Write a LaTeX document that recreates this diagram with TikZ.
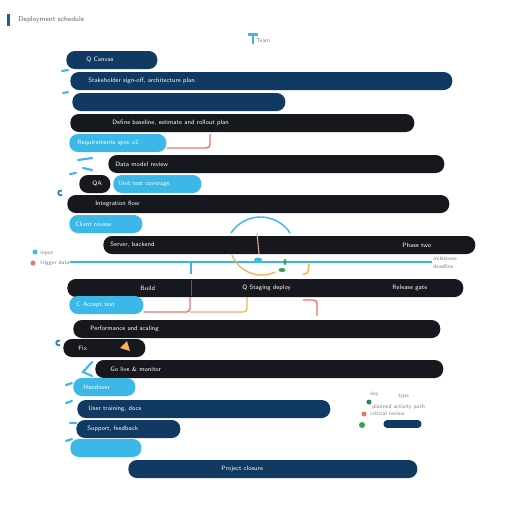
\documentclass[tikz,border=0pt]{standalone}
\usetikzlibrary{positioning}
\definecolor{navy}{HTML}{113A62}
\definecolor{ink}{HTML}{16181D}
\definecolor{sky}{HTML}{3BB8E8}
\definecolor{coral}{HTML}{F07070}
\definecolor{amber}{HTML}{F5B26B}
\definecolor{leaf}{HTML}{2EAA4A}
\tikzset{
  bar/.style={rounded corners=0.17cm, minimum height=0.36cm, inner sep=0pt, anchor=west},
  lbl/.style={font=\sffamily\fontsize{3.6}{4}\selectfont, text=white, inner sep=0pt, anchor=west},
  tag/.style={font=\sffamily\fontsize{3.2}{3.6}\selectfont, text=gray, inner sep=0pt, anchor=west},
  blob/.style={sky, line width=1.2pt, line cap=round}
}
\begin{document}
\begin{tikzpicture}[x=0.02cm, y=-0.02cm]
  \useasboundingbox[fill=white] (0,0) rectangle (512,512);
  % title
  \fill[navy!70!sky] (7,14) rectangle (10,26);
  \node[tag, text=gray!80!black, font=\sffamily\fontsize{4}{4}\selectfont] (title) at (18,20) {Deployment schedule};
  \fill[sky] (248,33) rectangle (258,36);
  \fill[sky] (252,36) rectangle (254,44);
  \node[tag] (key) at (256,41) {Team};
  % bars
  \node[bar, fill=navy, minimum width=1.82cm] (b1) at (66,60) {};
  \node[lbl] at (86,60) {Q Canvas};
  \node[bar, fill=navy, minimum width=7.64cm] (b2) at (70,81) {};
  \node[lbl] at (88,81) {Stakeholder sign-off, architecture plan};
  \node[bar, fill=navy, minimum width=4.26cm] (b3) at (72,102) {};
  \node[bar, fill=ink, minimum width=6.88cm] (b4) at (70,123) {};
  \node[lbl] at (112,123) {Define baseline, estimate and rollout plan};
  \node[bar, fill=sky, minimum width=1.94cm] (b5) at (69,143) {};
  \node[lbl] at (77,143) {Requirements spec v2};
  \node[bar, fill=ink, minimum width=6.72cm] (b6) at (108,164) {};
  \node[lbl] at (115,164) {Data model review};
  \node[bar, fill=ink, minimum width=0.62cm] (b7) at (79,184) {};
  \node[lbl] at (92,184) {QA};
  \node[bar, fill=sky, minimum width=1.76cm] (b7b) at (113,184) {};
  \node[lbl] at (118,184) {Unit test coverage};
  \node[bar, fill=ink, minimum width=7.64cm] (b8) at (67,204) {};
  \node[lbl] at (95,204) {Integration flow};
  \node[bar, fill=sky, minimum width=1.46cm] (b9) at (69,224) {};
  \node[lbl] at (75,224) {Client review};
  \node[bar, fill=ink, minimum width=7.44cm] (b10) at (103,245) {};
  \node[lbl] at (110,245) {Server, backend};
  \node[lbl] at (402,245) {Phase two};
  \node[bar, fill=ink, minimum width=7.92cm] (b12) at (67,288) {};
  \node[lbl] at (140,288) {Build};
  \node[lbl] at (242,288) {Q Staging deploy};
  \node[lbl] at (392,288) {Release gate};
  \draw[white!30!ink, line width=0.4pt] (191,280) -- (191,296);
  \node[bar, fill=sky, minimum width=1.48cm] (b13) at (69,305) {};
  \node[lbl] at (76,305) {C Accept test};
  \node[bar, fill=ink, minimum width=7.34cm] (b14) at (73,329) {};
  \node[lbl] at (90,329) {Performance and scaling};
  \node[bar, fill=ink, minimum width=1.64cm] (b15) at (63,348) {};
  \node[lbl] at (78,348) {Fix};
  \node[bar, fill=ink, minimum width=6.96cm] (b16) at (95,369) {};
  \node[lbl] at (110,369) {Go live \& monitor};
  \node[bar, fill=sky, minimum width=1.24cm] (b17) at (73,387) {};
  \node[lbl] at (83,387) {Handover};
  \node[bar, fill=navy, minimum width=5.06cm] (b18) at (77,409) {};
  \node[lbl] at (88,409) {User training, docs};
  \node[bar, fill=navy, minimum width=2.08cm] (b19) at (76,429) {};
  \node[lbl] at (87,429) {Support, feedback};
  \node[bar, fill=sky, minimum width=1.42cm] (b20) at (70,448) {};
  \node[bar, fill=navy, minimum width=5.78cm] (b21) at (128,469) {};
  \node[lbl] at (221,469) {Project closure};
  % connectors
  \draw[coral, line width=0.8pt, rounded corners=2pt] (b5.east) ++(0,5) -- (210,148) -- (210,134);
  \draw[sky, line width=0.8pt] (70,262) -- (432,262);
  \draw[sky, line width=0.8pt] (191,262) -- (191,274);
  \node[tag] (t11a) at (433,259) {milestone};
  \node[tag] (t11b) at (433,267) {deadline};
  \draw[coral, line width=0.8pt, rounded corners=2pt] (b13.east) ++(0,7) -- (190,312) -- (190,297);
  \draw[amber, line width=0.8pt, rounded corners=2pt] (190,312) -- (247,312) -- (247,297);
  \draw[coral, line width=0.8pt, rounded corners=2pt] (303,300) -- (317,300) -- (317,316);
  % gauge
  \draw[sky, line width=0.8pt] (231,233) arc (213:327:35.2);
  \draw[amber, line width=0.8pt] (232,255) arc (158:65:32);
  \draw[coral!60!white, line width=0.6pt] (257,233) -- (259,254);
  \fill[sky] (258,260) ellipse (4 and 2.5);
  \fill[leaf] (285,262) ellipse (1.5 and 3);
  \fill[leaf] (282,270) ellipse (3.5 and 2);
  \draw[amber!80!yellow, line width=1pt, rounded corners=2pt] (303,274) -- (308,274) -- (309,264);
  % side marks
  \fill[sky] (35,252) circle (2.5);
  \fill[coral] (33,263) circle (2.5);
  \node[tag] (side1) at (40,253) {input};
  \node[tag] (side2) at (40,263) {trigger data};
  \draw[blob] (62,71) -- (68,70);
  \draw[blob] (63,93) -- (68,92);
  \draw[blob] (78,160) -- (92,158);
  \draw[blob] (83,168) -- (92,170);
  \draw[blob] (70,174) -- (76,173);
  \draw[sky!60!navy, line width=1pt] (62,195) arc (60:300:2.5);
  \draw[sky!60!navy, line width=1pt] (60,345) arc (60:300:2.5);
  \draw[blob] (92,362) -- (83,372) -- (92,376);
  \fill[amber!90!orange] (120,348) -- (127,341) -- (130,351) -- cycle;
  \draw[blob] (66,385) -- (72,383);
  \draw[blob] (66,403) -- (72,401);
  \draw[blob] (70,423) -- (76,423);
  \draw[blob] (66,441) -- (72,439);
  % legend
  \node[tag] (lg0) at (370,394) {key};
  \node[tag] (lg0b) at (398,396) {type};
  \fill[leaf!70!navy] (369,402) circle (2.5);
  \fill[coral] (364,414) circle (2.5);
  \fill[leaf] (362,425) circle (3);
  \node[tag] (lg1) at (372,407) {planned activity path};
  \node[tag] (lg2) at (370,414) {critical review};
  \draw[navy, line width=4pt, line cap=round] (387,424) -- (418,424);
\end{tikzpicture}
\end{document}
